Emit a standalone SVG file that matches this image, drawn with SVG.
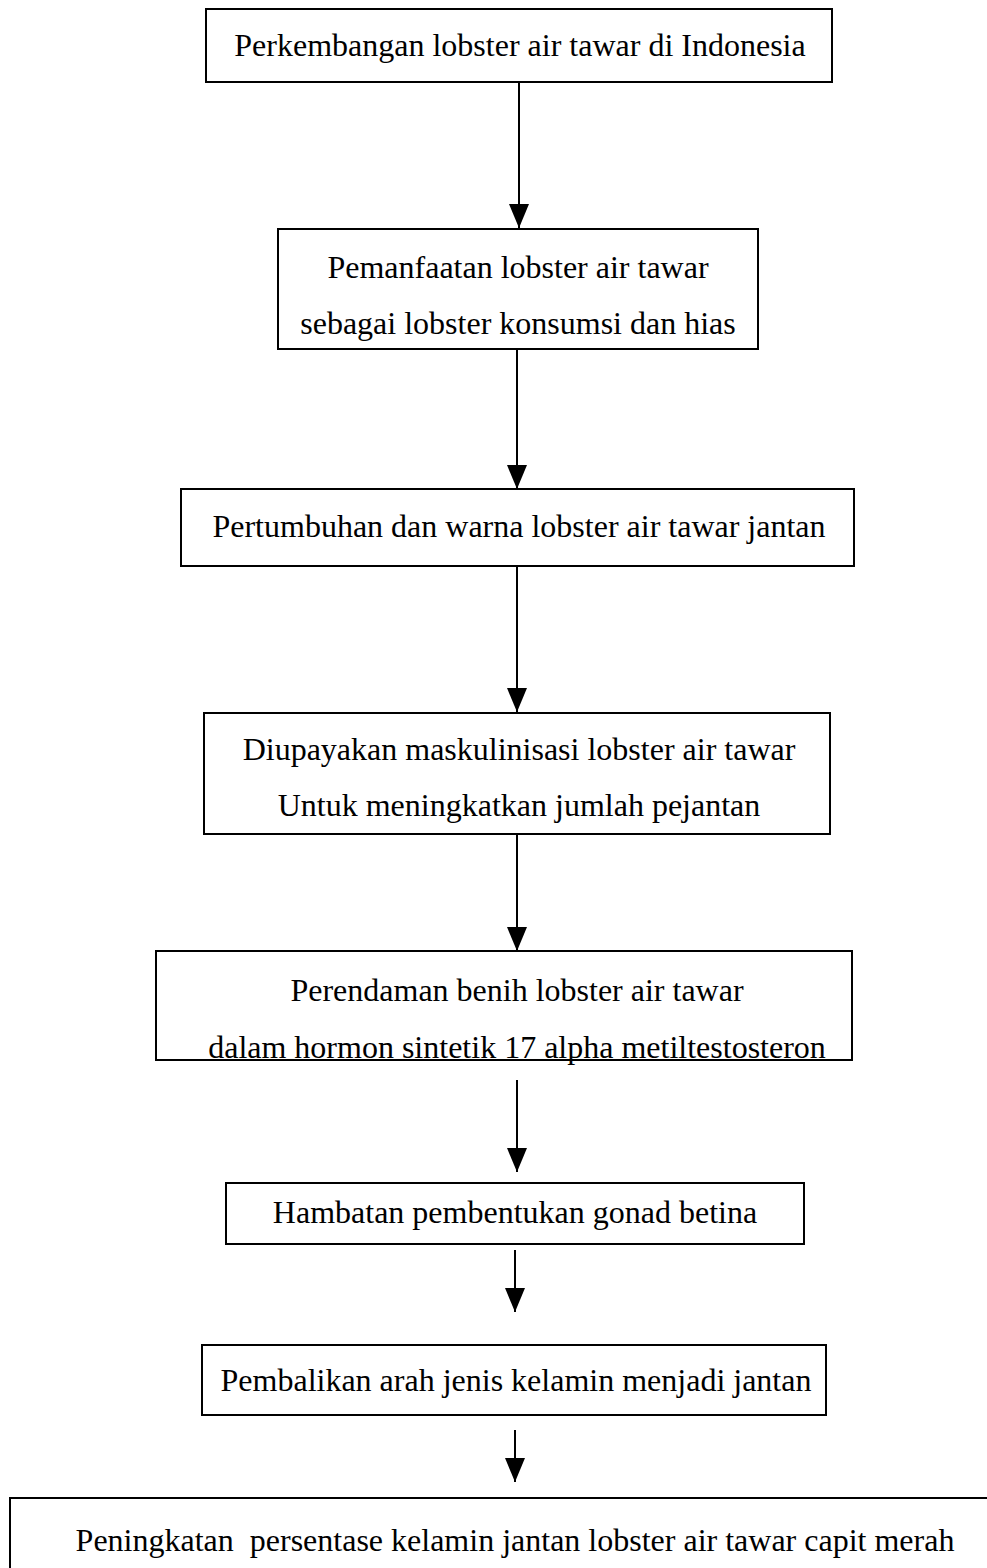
<svg xmlns="http://www.w3.org/2000/svg" width="987" height="1568" viewBox="0 0 987 1568">
<style>
.box{fill:#fff;stroke:#000;stroke-width:2}
.t{font-family:"Liberation Serif","Times New Roman",serif;font-size:32px;fill:#000;text-anchor:middle;white-space:pre}
.c{stroke:#000;stroke-width:2;fill:none;marker-end:url(#ah)}
</style>
<defs>
<marker id="ah" markerWidth="24" markerHeight="20" refX="24" refY="10" orient="auto" markerUnits="userSpaceOnUse" viewBox="0 0 24 20">
<path d="M0,0 L24,10 L0,20 Z" fill="#000"/>
</marker>
</defs>
<g id="connectors">
<line class="c" x1="519" y1="82" x2="519" y2="228"/>
<line class="c" x1="517" y1="349" x2="517" y2="489"/>
<line class="c" x1="517" y1="566" x2="517" y2="712"/>
<line class="c" x1="517" y1="834" x2="517" y2="951"/>
<line class="c" x1="517" y1="1080" x2="517" y2="1172"/>
<line class="c" x1="515" y1="1250" x2="515" y2="1312"/>
<line class="c" x1="515" y1="1430" x2="515" y2="1482"/>
</g>
<g id="n1"><rect class="box" x="206" y="9" width="626" height="73"/><text class="t" x="520" y="56">Perkembangan lobster air tawar di Indonesia</text></g>
<g id="n2"><rect class="box" x="278" y="229" width="480" height="120"/><text class="t" x="518" y="278">Pemanfaatan lobster air tawar</text><text class="t" x="518" y="334">sebagai lobster konsumsi dan hias</text></g>
<g id="n3"><rect class="box" x="181" y="489" width="673" height="77"/><text class="t" x="519" y="537">Pertumbuhan dan warna lobster air tawar jantan</text></g>
<g id="n4"><rect class="box" x="204" y="713" width="626" height="121"/><text class="t" x="519" y="760">Diupayakan maskulinisasi lobster air tawar</text><text class="t" x="519" y="816">Untuk meningkatkan jumlah pejantan</text></g>
<g id="n5"><rect class="box" x="156" y="951" width="696" height="109"/><text class="t" x="517" y="1001">Perendaman benih lobster air tawar</text><text class="t" x="517" y="1058">dalam hormon sintetik 17 alpha metiltestosteron</text></g>
<g id="n6"><rect class="box" x="226" y="1183" width="578" height="61"/><text class="t" x="515" y="1223">Hambatan pembentukan gonad betina</text></g>
<g id="n7"><rect class="box" x="202" y="1345" width="624" height="70"/><text class="t" x="516" y="1391">Pembalikan arah jenis kelamin menjadi jantan</text></g>
<g id="n8"><rect class="box" x="10" y="1498" width="1000" height="100"/><text class="t" x="515" y="1551" xml:space="preserve">Peningkatan  persentase kelamin jantan lobster air tawar capit merah</text></g>
</svg>
